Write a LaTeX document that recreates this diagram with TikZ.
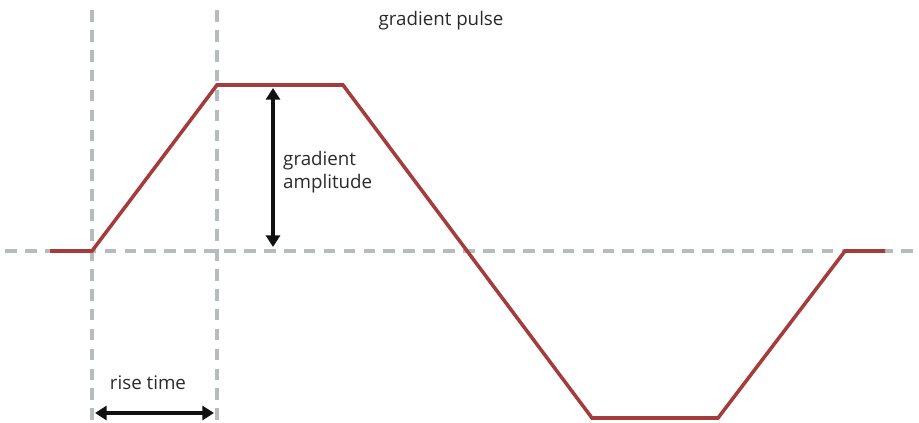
\documentclass[tikz,border=0pt]{standalone}
\usepackage{fontspec}
\setmainfont{Open Sans}
\usetikzlibrary{arrows.meta}
\definecolor{pulsered}{HTML}{A53B3B}
\definecolor{guidegray}{HTML}{B6BBBE}
\definecolor{ink}{HTML}{111111}
\definecolor{subink}{HTML}{2A2A2A}

\begin{document}
\begin{tikzpicture}[
    x=0.03cm, y=-0.03cm,
    every node/.style={font=\fontsize{16pt}{19.5pt}\selectfont, text=subink, inner sep=0pt},
    % Dashed guide lines
    guide/.style={guidegray, line width=3pt, dash pattern=on 10pt off 7pt},
    % Pulse trace
    wave/.style={pulsered, line width=3pt, line join=miter},
    % Measurement arrows
    meas/.style={{Triangle[length=10pt, width=12pt]}-{Triangle[length=10pt, width=12pt]},
                 ink, line width=3pt}
]
\useasboundingbox (0,0) rectangle (919,423);

% ========== Guide coordinates ==========
\coordinate (gl) at (5,251);
\coordinate (gr) at (919,251);
\coordinate (v1t) at (92,10);
\coordinate (v1b) at (92,423);
\coordinate (v2t) at (217,10);
\coordinate (v2b) at (217,423);

% ========== Pulse corners ==========
\coordinate (p0) at (50,251);
\coordinate (p1) at (92,251);
\coordinate (p2) at (217,85);
\coordinate (p3) at (343,85);
\coordinate (p4) at (592,418);
\coordinate (p5) at (718,418);
\coordinate (p6) at (845,251);
\coordinate (p7) at (885,251);

% ========== Dashed guides ==========
\draw[guide] (gl) -- (gr);
\draw[guide] (v1t) -- (v1b);
\draw[guide] (v2t) -- (v2b);

% ========== Pulse ==========
\draw[wave] (p0) -- (p1) -- (p2) -- (p3) -- (p4) -- (p5) -- (p6) -- (p7);

% ========== Labels ==========
\node (title) at (441,21) {gradient pulse};
\node[anchor=west, align=left] (amp) at (283,172) {gradient\\amplitude};
\node (rise) at (148,383) {rise time};

% ========== Measurement arrows ==========
\coordinate (at) at (273,88);
\coordinate (ab) at (273,247);
\coordinate (rl) at (95,413);
\coordinate (rr) at (214,413);
\draw[meas] (at) -- (ab);
\draw[meas] (rl) -- (rr);

\end{tikzpicture}
\end{document}
